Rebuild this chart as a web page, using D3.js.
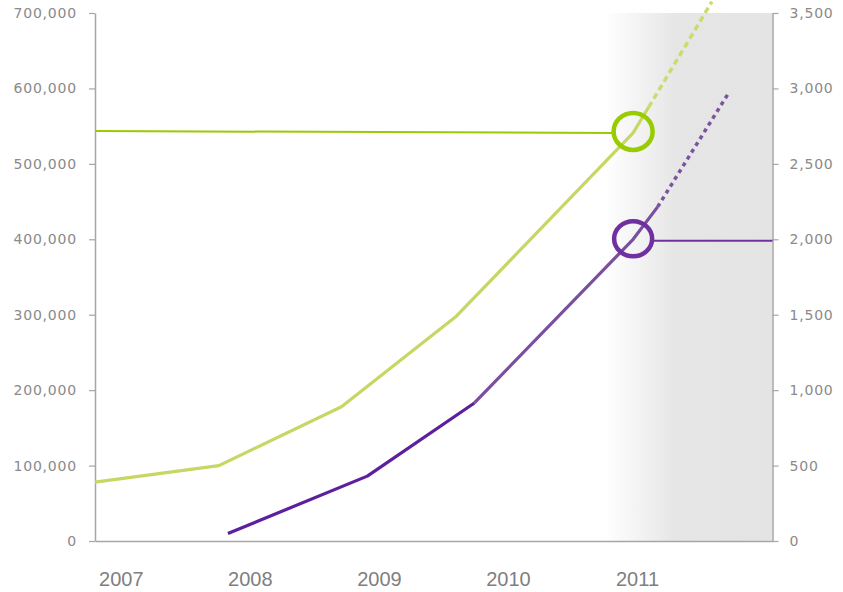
<!DOCTYPE html>
<html><head><meta charset="utf-8">
<script src="https://cdn.jsdelivr.net/npm/d3@7"></script>
<style>body{margin:0;background:#fff}svg{display:block}</style>
</head><body>
<script>
// ---- data ----
const years = [2007, 2008, 2009, 2010, 2011];
const leftTicks = [0, 100000, 200000, 300000, 400000, 500000, 600000, 700000];
const rightTicks = [0, 500, 1000, 1500, 2000, 2500, 3000, 3500];
const greenSolid = [[2006.80, 78000], [2007.76, 100000], [2008.71, 178000], [2009.60, 298000], [2010.97, 541000], [2011.09, 575000]];
const greenDashed = [[2011.09, 575000], [2011.58, 715000]];
const purpleSolidA = [[2007.83, 50], [2008.91, 430], [2009.74, 915]];
const purpleSolidB = [[2009.74, 915], [2010.97, 2000], [2011.16, 2215]];
const purpleDashed = [[2011.16, 2215], [2011.71, 2970]];
const greenGuide = [[2006.80, 543500], [2010.82, 541000]];
const purpleGuide = [[2011.12, 1990], [2012.05, 1990]];
const greenMark = [2010.97, 543000];
const purpleMark = [2010.97, 2003];
const shade = [2010.75, 2012.05];

const W = 843, H = 592;
const x = d3.scaleLinear().domain([2006.80, 2012.05]).range([95, 772.5]);
const yL = d3.scaleLinear().domain([0, 700000]).range([541, 13]);
const yR = d3.scaleLinear().domain([0, 3500]).range([541, 13]);

const svg = d3.select("body").append("svg").attr("width", W).attr("height", H);
const defs = svg.append("defs");
const grad = defs.append("linearGradient").attr("id", "sh").attr("x1", "0").attr("x2", "1").attr("y1", "0").attr("y2", "0");
grad.append("stop").attr("offset", "0").attr("stop-color", "#ffffff");
grad.append("stop").attr("offset", "0.42").attr("stop-color", "#e6e6e6");
grad.append("stop").attr("offset", "1").attr("stop-color", "#e4e4e4");

svg.append("rect")
  .attr("x", x(shade[0])).attr("y", yR(3500))
  .attr("width", x(shade[1]) - x(shade[0])).attr("height", yR(0) - yR(3500))
  .attr("fill", "url(#sh)");

// axes
const tickFont = "'DejaVu Sans', Verdana, sans-serif";
const axL = svg.append("g").attr("transform", "translate(95,0)")
  .call(d3.axisLeft(yL).tickValues(leftTicks).tickFormat(d3.format(",")).tickSize(6).tickPadding(12).tickSizeOuter(0));
const axR = svg.append("g").attr("transform", "translate(772.5,0)")
  .call(d3.axisRight(yR).tickValues(rightTicks).tickFormat(d3.format(",")).tickSize(6).tickPadding(12).tickSizeOuter(0));
[axL, axR].forEach(g => {
  g.select(".domain").attr("stroke", "#a6a6a6").attr("stroke-width", 1.5);
  g.selectAll(".tick line").attr("stroke", "#a6a6a6").attr("stroke-width", 1.2);
  g.selectAll(".tick text").attr("fill", "#8a8a8a").style("font-family", tickFont)
    .style("font-size", "14px").style("letter-spacing", "0.8px");
});
axR.selectAll(".tick text").attr("x", 17);
const axB = svg.append("g").attr("transform", "translate(0,541)")
  .call(d3.axisBottom(x).tickValues(years).tickFormat(d3.format("d")).tickSize(0).tickPadding(31).tickSizeOuter(0));
axB.select(".domain").attr("stroke", "#a6a6a6").attr("stroke-width", 1.5);
axB.selectAll(".tick text").attr("fill", "#7f7f7f")
  .style("font-family", "'Liberation Sans', Arial, sans-serif").style("font-size", "20px");

// lines
const lineL = d3.line().x(d => x(d[0])).y(d => yL(d[1]));
const lineR = d3.line().x(d => x(d[0])).y(d => yR(d[1]));

svg.append("path").attr("d", lineL(greenSolid)).attr("fill", "none")
  .attr("stroke", "#c8d663").attr("stroke-width", 3.2).attr("stroke-linejoin", "round");
svg.append("path").attr("d", lineL(greenDashed)).attr("fill", "none")
  .attr("stroke", "#cddb6e").attr("stroke-width", 3.5).attr("stroke-dasharray", "6,4");

svg.append("path").attr("d", lineR(purpleSolidA)).attr("fill", "none")
  .attr("stroke", "#5e1f9e").attr("stroke-width", 3.2).attr("stroke-linejoin", "round");
svg.append("path").attr("d", lineR(purpleSolidB)).attr("fill", "none")
  .attr("stroke", "#7a4fa0").attr("stroke-width", 3.2).attr("stroke-linejoin", "round");
svg.append("path").attr("d", lineR(purpleDashed)).attr("fill", "none")
  .attr("stroke", "#7a559f").attr("stroke-width", 3.5).attr("stroke-dasharray", "4,4");

// guides
svg.append("path").attr("d", lineL(greenGuide)).attr("fill", "none")
  .attr("stroke", "#99cc00").attr("stroke-width", 2);
svg.append("path").attr("d", lineR(purpleGuide)).attr("fill", "none")
  .attr("stroke", "#7030a0").attr("stroke-width", 2);

// markers
svg.append("ellipse").attr("cx", x(greenMark[0])).attr("cy", yL(greenMark[1]))
  .attr("rx", 19.5).attr("ry", 18.5).attr("fill", "none").attr("stroke", "#99cc00").attr("stroke-width", 4.5);
svg.append("ellipse").attr("cx", x(purpleMark[0])).attr("cy", yR(purpleMark[1]))
  .attr("rx", 19).attr("ry", 17.5).attr("fill", "none").attr("stroke", "#7030a0").attr("stroke-width", 4.5);
</script>
</body></html>
